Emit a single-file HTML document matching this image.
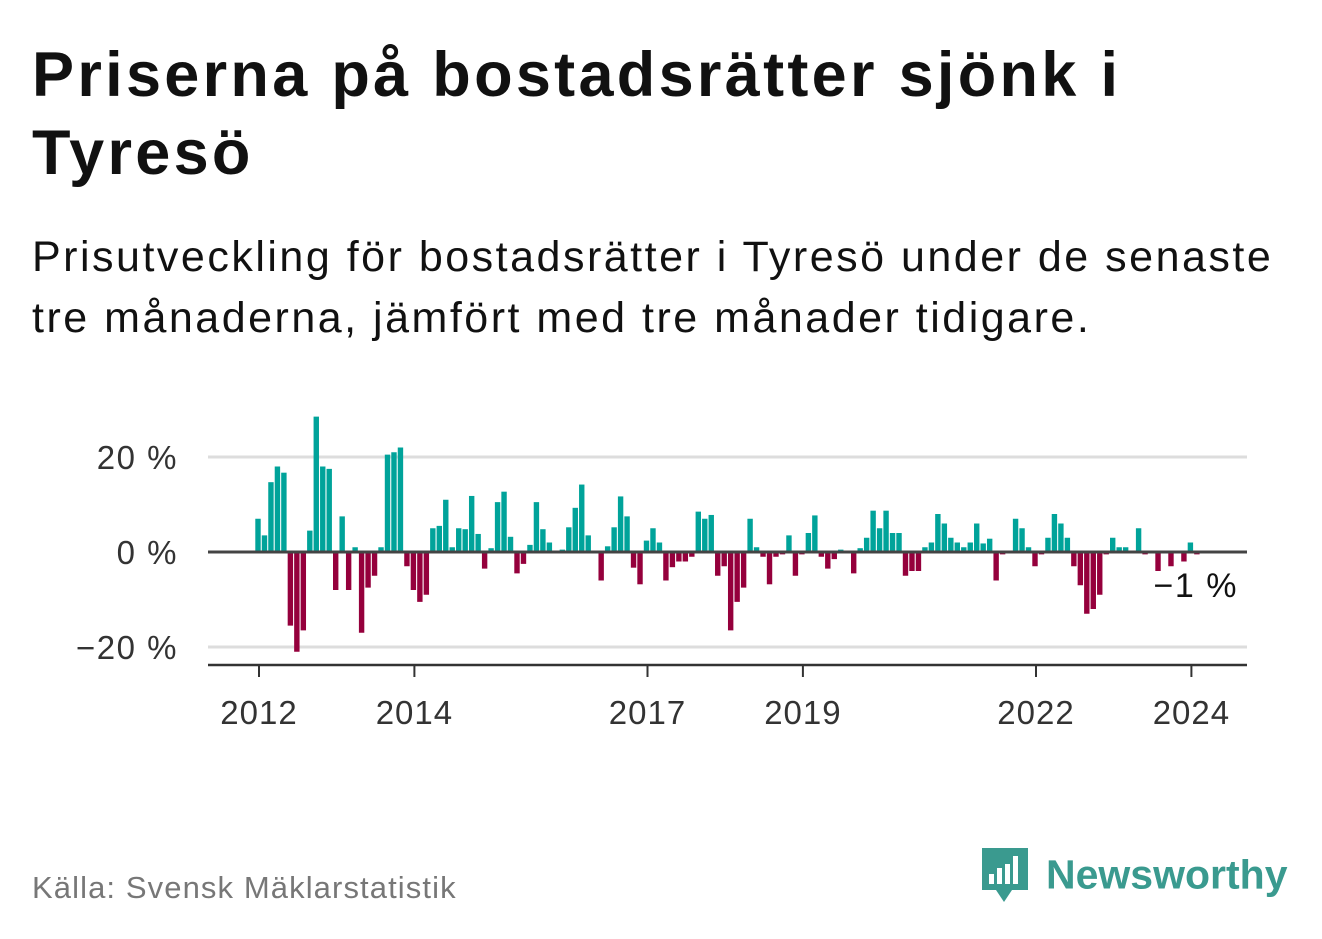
<!DOCTYPE html>
<html><head><meta charset="utf-8"><style>
body{margin:0;width:1322px;height:939px;background:#fff;font-family:"Liberation Sans",sans-serif;overflow:hidden;position:relative}
h1{position:absolute;left:32px;top:36px;margin:0;font-size:63px;line-height:78px;font-weight:bold;color:#111;letter-spacing:3.3px;white-space:nowrap}
.sub{position:absolute;left:32px;top:227px;margin:0;font-size:43px;line-height:61px;color:#111;letter-spacing:2.5px;white-space:nowrap}
.src{position:absolute;left:32px;top:870px;font-size:31px;color:#777;letter-spacing:1.1px}
.logo{position:absolute;left:980px;top:846px;font-size:41px;font-weight:bold;color:#3a9a8f;white-space:nowrap}
</style></head><body>
<h1>Priserna på bostadsrätter sjönk i<br>Tyresö</h1>
<p class="sub">Prisutveckling för bostadsrätter i Tyresö under de senaste<br>tre månaderna, jämfört med tre månader tidigare.</p>
<svg id="chart" width="1322" height="939" style="position:absolute;left:0;top:0" font-family="Liberation Sans, sans-serif"></svg>
<div class="src">Källa: Svensk Mäklarstatistik</div>
<div class="logo">
<svg width="50" height="58" style="vertical-align:middle;margin-right:16px"><path d="M2 2h46v42H32l-8 12-8-12H2z" fill="#3a9a8f"/><rect x="9" y="28" width="5" height="10" fill="#fff"/><rect x="17" y="22" width="5" height="16" fill="#fff"/><rect x="25" y="18" width="5" height="20" fill="#fff"/><rect x="33" y="10" width="5" height="28" fill="#fff"/></svg><span style="vertical-align:middle">Newsworthy</span></div>
<script>
const values=[7,3.5,14.7,18,16.7,-15.5,-21,-16.5,4.5,28.5,18,17.5,-8,7.5,-8,1,-17,-7.5,-5,1,20.5,21,22,-3,-8,-10.5,-9,5,5.5,11,1,5,4.8,11.8,3.8,-3.5,0.8,10.5,12.7,3.2,-4.5,-2.5,1.5,10.5,4.8,2,0,0.5,5.2,9.3,14.2,3.5,0,-6,1.2,5.2,11.7,7.5,-3.3,-6.8,2.4,5,2,-6,-3.2,-2,-2,-1,8.5,7,7.8,-5,-3,-16.5,-10.5,-7.5,7,1,-1,-6.8,-1,-0.5,3.5,-5,-0.5,4,7.7,-1,-3.5,-1.5,0.5,0,-4.5,0.8,3,8.7,5,8.7,4,4,-5,-4,-4,1,2,8,6,3,2,1,2,6,1.8,2.8,-6,-0.5,0,7,5,1,-3,-0.5,3,8,6,3,-3,-7,-13,-12,-9,-0.5,3,1,1,0,5,-0.5,0,-4,0,-3,0,-2,2,-0.5];
const yTicks=[20,0,-20];
const yLabels=["20 %","0 %","−20 %"];
const xYears=[2012,2014,2017,2019,2022,2024];
const lastLabel="−1 %";
const svg=document.getElementById('chart');
const NS='http://www.w3.org/2000/svg';
const y=v=>552-v*4.75;
const xm=i=>258+i*6.475;
const xYear=yr=>xm((yr-2012)*12)+1;
function mk(t,a){const e=document.createElementNS(NS,t);for(const k in a)e.setAttribute(k,a[k]);svg.appendChild(e);return e;}
yTicks.forEach((t,i)=>{
 if(t!==0){const g=mk('line',{x1:208,x2:1247,y1:y(t),y2:y(t),stroke:'#ddd','stroke-width':3});
 
 }
 const tx=mk('text',{x:178,y:y(t)+12,'text-anchor':'end','font-size':33,fill:'#333','letter-spacing':1.5});
 tx.textContent=yLabels[i];
 
 
});
values.forEach((v,i)=>{
 const r=mk('rect',{x:xm(i)-2.7,width:5.4,y:v>=0?y(v):552,height:Math.abs(v)*4.75,fill:v>=0?'#00a39a':'#95003c'});
 
 
});
const z=mk('line',{x1:208,x2:1247,y1:552,y2:552,stroke:'#444','stroke-width':3});


const ax=mk('line',{x1:208,x2:1247,y1:665,y2:665,stroke:'#333','stroke-width':2.5});


xYears.forEach(yr=>{
 const tk=mk('line',{x1:xYear(yr),x2:xYear(yr),y1:665,y2:677,stroke:'#333','stroke-width':2});
 
 
 const tx=mk('text',{x:xYear(yr),y:724,'text-anchor':'middle','font-size':33,fill:'#333','letter-spacing':1});
 tx.textContent=yr;
 
 
});
const ll=mk('text',{x:1238,y:597,'text-anchor':'end','font-size':34,fill:'#111','letter-spacing':1.5});
ll.textContent=lastLabel;


</script>
</body></html>
